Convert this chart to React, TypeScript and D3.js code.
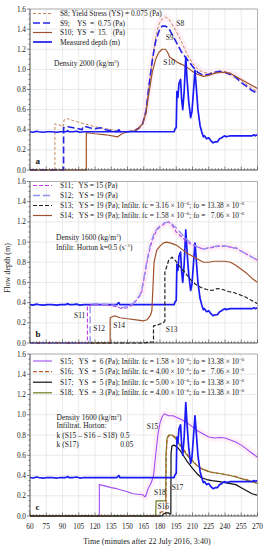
import React from 'react';
import * as d3 from 'd3';

type Pt = [number, number];

const timeTicks = d3.range(60, 271, 15);
const depthTicks = [0, 0.2, 0.4, 0.6, 0.8, 1.0, 1.2, 1.4, 1.6];

// measured flow depth (same record in all panels)
const measured: Pt[] = [
  [60, 0.38], [63, 0.375], [66, 0.385], [68, 0.38], [72, 0.375], [76, 0.38], [80, 0.38], [85, 0.375],
  [88, 0.38], [93, 0.38], [95, 0.39], [96, 0.38], [100, 0.38], [103, 0.385], [106, 0.375], [110, 0.38],
  [120, 0.38], [130, 0.38], [140, 0.38], [142, 0.40], [143, 0.38], [155, 0.38], [170, 0.38], [185, 0.38],
  [193, 0.38], [194, 0.41], [195, 0.42], [195.6, 0.78], [196.5, 0.72], [197.5, 0.86], [199, 0.9], [200, 0.7],
  [201, 0.6], [202.3, 0.78], [203.8, 1.12], [205, 0.9], [206.5, 0.68], [208.3, 0.52], [209.5, 0.58],
  [211, 0.8], [212.3, 0.99], [213.5, 0.82], [215, 0.6], [217, 0.44], [218.5, 0.38], [220, 0.33], [221, 0.34],
  [223, 0.31], [225, 0.32], [227, 0.29], [229, 0.27], [231, 0.28], [233, 0.28], [235, 0.31], [237, 0.32],
  [238, 0.33], [240, 0.34], [241, 0.33], [245, 0.34], [250, 0.34], [255, 0.34], [260, 0.34], [265, 0.34],
  [267, 0.35], [268, 0.34], [270, 0.35],
];

const s8: Pt[] = [
  [60, 0], [83, 0], [83, 0.46], [86, 0.45], [90, 0.44], [90.6, 0.43], [91.5, 0.5], [95, 0.51], [100, 0.49],
  [110, 0.46], [120, 0.43], [130, 0.41], [140, 0.39], [148, 0.38], [155, 0.39], [160, 0.42], [164, 0.47],
  [167, 0.6], [170, 0.85], [173, 1.1], [176, 1.32], [179, 1.45], [182, 1.5], [185, 1.52], [188, 1.5],
  [191, 1.45], [195, 1.38], [200, 1.27], [205, 1.15], [210, 1.06], [215, 1.0], [220, 0.97], [225, 0.96],
  [230, 0.97], [235, 0.98], [240, 0.98], [245, 0.96], [250, 0.93], [255, 0.89], [260, 0.85], [265, 0.81],
  [270, 0.78],
];

const s9: Pt[] = [
  [60, 0], [91, 0], [91, 0.42], [95, 0.43], [100, 0.42], [105, 0.41], [108, 0.40], [109, 0.43], [112, 0.43],
  [115, 0.42], [120, 0.41], [125, 0.42], [130, 0.40], [135, 0.39], [140, 0.38], [150, 0.38], [157, 0.39],
  [161, 0.42], [164, 0.46], [167, 0.58], [170, 0.85], [173, 1.1], [176, 1.28], [179, 1.38], [182, 1.43],
  [185, 1.43], [188, 1.41], [191, 1.35], [195, 1.27], [200, 1.17], [205, 1.1], [210, 1.03], [215, 0.97],
  [220, 0.94], [225, 0.95], [230, 0.97], [235, 0.98], [240, 0.97], [245, 0.95], [250, 0.92], [255, 0.87],
  [260, 0.83], [265, 0.79], [270, 0.76],
];

const s10: Pt[] = [
  [60, 0], [112, 0], [112, 0.37], [120, 0.36], [130, 0.35], [141, 0.33], [145, 0.36], [150, 0.38],
  [157, 0.39], [161, 0.42], [164, 0.46], [167, 0.56], [170, 0.78], [173, 0.98], [176, 1.1], [179, 1.17],
  [182, 1.2], [185, 1.2], [187, 1.17], [189, 1.12], [192, 1.1], [196, 1.07], [200, 1.05], [205, 1.02],
  [210, 0.98], [215, 0.95], [220, 0.93], [225, 0.94], [230, 0.96], [235, 0.97], [240, 0.97], [245, 0.96],
  [250, 0.93], [255, 0.9], [260, 0.87], [265, 0.84], [270, 0.81],
];

const s11: Pt[] = [
  [60, 0], [113, 0], [113, 0.37], [118, 0.38], [125, 0.38], [135, 0.37], [140, 0.36], [145, 0.34],
  [150, 0.35], [155, 0.38], [158, 0.42], [161, 0.46], [163, 0.5], [165, 0.62], [168, 0.8], [171, 0.95],
  [174, 1.05], [177, 1.12], [180, 1.15], [184, 1.18], [188, 1.2], [191, 1.17], [195, 1.1], [200, 1.05],
  [205, 1.0], [210, 0.97], [215, 0.95], [220, 0.93], [225, 0.94], [230, 0.95], [235, 0.96], [240, 0.96],
  [245, 0.95], [250, 0.94], [255, 0.91], [260, 0.88], [265, 0.85], [270, 0.82],
];

const s12: Pt[] = [
  [60, 0], [115.5, 0], [115.5, 0.38], [120, 0.39], [125, 0.385], [135, 0.38], [140, 0.37], [145, 0.35],
  [150, 0.36], [155, 0.39], [158, 0.43], [161, 0.47], [163, 0.52], [165, 0.64], [168, 0.82], [171, 0.97],
  [174, 1.07], [177, 1.13], [180, 1.16], [184, 1.19], [188, 1.2], [191, 1.18], [195, 1.14], [200, 1.08],
  [205, 1.02], [210, 0.98], [215, 0.95], [220, 0.93], [225, 0.945], [230, 0.955], [235, 0.965],
  [240, 0.96], [245, 0.955], [248, 0.94], [250, 0.945], [255, 0.91], [260, 0.88], [265, 0.85], [270, 0.82],
];

const s13: Pt[] = [
  [60, 0], [165, 0], [172, 0.01], [174, 0.01], [174, 0.17], [178, 0.18], [183, 0.2], [184.5, 0.22],
  [184.5, 0.7], [186, 0.75], [188, 0.82], [191, 0.85], [194, 0.82], [198, 0.76], [203, 0.7], [208, 0.63],
  [213, 0.58], [218, 0.55], [223, 0.53], [228, 0.52], [233, 0.54], [238, 0.53], [243, 0.51], [248, 0.5],
  [253, 0.48], [258, 0.46], [263, 0.43], [270, 0.39],
];

const s14: Pt[] = [
  [60, 0], [134, 0], [134, 0.25], [138, 0.27], [143, 0.25], [150, 0.24], [158, 0.23], [165, 0.22],
  [168, 0.23], [171, 0.27], [172.5, 0.32], [173.5, 0.55], [174.5, 0.8], [177, 0.92], [180, 0.96],
  [183, 0.99], [186, 1.0], [190, 0.99], [195, 0.97], [200, 0.93], [205, 0.89], [210, 0.86], [215, 0.83],
  [220, 0.8], [225, 0.8], [230, 0.81], [235, 0.81], [240, 0.81], [245, 0.8], [250, 0.77], [255, 0.73],
  [260, 0.69], [265, 0.64], [270, 0.6],
];

const s15: Pt[] = [
  [60, 0], [124, 0], [124, 0.31], [128, 0.3], [135, 0.28], [140, 0.27], [145, 0.255], [150, 0.24],
  [155, 0.22], [160, 0.215], [164, 0.21], [166, 0.19], [167, 0.2], [169, 0.27], [172, 0.33], [174, 0.4],
  [176, 0.6], [178, 0.8], [180, 0.92], [182, 0.98], [184, 1.01], [186, 1.0], [188, 0.99], [192, 0.99],
  [196, 0.97], [200, 0.95], [205, 0.92], [210, 0.88], [215, 0.84], [220, 0.81], [225, 0.78], [230, 0.77],
  [235, 0.775], [240, 0.77], [245, 0.75], [250, 0.73], [255, 0.7], [260, 0.66], [265, 0.62], [270, 0.58],
];

const s16: Pt[] = [
  [60, 0], [179, 0], [180, 0.03], [181, 0.04], [184, 0.04], [185, 0.02], [185.5, 0.02], [185.8, 0.6],
  [186.5, 0.76], [188, 0.79], [191, 0.8], [194, 0.78], [197, 0.73], [201, 0.67], [205, 0.61], [210, 0.55],
  [214, 0.5], [218, 0.47], [223, 0.45], [228, 0.43], [235, 0.42], [240, 0.41], [245, 0.4], [250, 0.39],
  [255, 0.37], [260, 0.36], [265, 0.34], [270, 0.33],
];

const s17: Pt[] = [
  [60, 0], [182, 0], [183, 0.02], [185, 0.03], [188, 0.03], [189, 0.02], [190, 0.02], [190.2, 0.62],
  [191, 0.69], [193, 0.7], [196, 0.68], [199, 0.64], [202, 0.59], [205, 0.54], [210, 0.47], [214, 0.42],
  [218, 0.38], [223, 0.36], [228, 0.35], [235, 0.34], [240, 0.33], [245, 0.32], [250, 0.31], [255, 0.28],
  [260, 0.25], [265, 0.22], [270, 0.205],
];

const s18: Pt[] = [
  [60, 0], [176, 0], [176.4, 0.15], [183, 0.15], [185.3, 0.15], [185.5, 0.6], [186.5, 0.77], [188, 0.8],
  [191, 0.8], [194, 0.77], [197, 0.72], [201, 0.66], [205, 0.6], [210, 0.54], [214, 0.5], [218, 0.47],
  [223, 0.445], [228, 0.43], [235, 0.42], [240, 0.41], [245, 0.4], [250, 0.385], [255, 0.37], [260, 0.355],
  [265, 0.34], [270, 0.32],
];

type Style = { color: string; width: number; dash?: string };
const styles: Record<string, Style> = {
  measured: { color: '#1a1af5', width: 1.7 },
  s8: { color: '#c8865a', width: 1, dash: '3,2' },
  s9: { color: '#2424e6', width: 1.6, dash: '7,3' },
  s10: { color: '#a0522d', width: 1.2 },
  s11: { color: '#c03ce6', width: 1.1, dash: '4,2' },
  s12: { color: '#8f8ff0', width: 1.3, dash: '7,3' },
  s13: { color: '#222222', width: 1.2, dash: '4,2' },
  s14: { color: '#a0522d', width: 1.2 },
  s15: { color: '#a24cf5', width: 1.1 },
  s16: { color: '#b8602c', width: 1.2, dash: '4,2' },
  s17: { color: '#111111', width: 1.2 },
  s18: { color: '#6b7d20', width: 1.2 },
};

const seriesData: Record<string, Pt[]> = { measured, s8, s9, s10, s11, s12, s13, s14, s15, s16, s17, s18 };

// "^...^" marks superscript text
const legendA = [
  ['s8', 'S8; Yield Stress (YS) = 0.075 (Pa)'],
  ['s9', 'S9;    YS  =  0.75 (Pa)'],
  ['s10', 'S10;  YS  =  15.   (Pa)'],
  ['measured', 'Measured depth (m)'],
];
const legendB = [
  ['s11', 'S11;   YS = 15 (Pa)'],
  ['s12', 'S12;   YS = 19 (Pa)'],
  ['s13', 'S13;   YS = 19 (Pa); Infiltr. fc = 3.16 × 10^−6^; fo = 13.38 × 10^−6^'],
  ['s14', 'S14;   YS = 19 (Pa); Infiltr. fc = 1.58 × 10^−6^; fo =   7.06 × 10^−6^'],
];
const legendC = [
  ['s15', 'S15;   YS  =  6 (Pa); Infiltr. fc = 1.58 × 10^−6^; fo = 13.38 × 10^−6^'],
  ['s16', 'S16;   YS  =  5 (Pa); Infiltr. fc = 4.00 × 10^−6^; fo =   7.06 × 10^−6^'],
  ['s17', 'S17;   YS  =  5 (Pa); Infiltr. fc = 5.00 × 10^−6^; fo = 13.38 × 10^−6^'],
  ['s18', 'S18;   YS  =  3 (Pa); Infiltr. fc = 4.00 × 10^−6^; fo = 13.38 × 10^−6^'],
];

type Note = { t: number; d: number; text: string };
const notesA: Note[] = [
  { t: 195, d: 1.43, text: 'S8' },
  { t: 185.2, d: 1.29, text: 'S9' },
  { t: 183, d: 1.04, text: 'S10' },
  { t: 82.2, d: 1.03, text: 'Density 2000 (kg/m^3^)' },
];
const notesB: Note[] = [
  { t: 100.6, d: 0.245, text: 'S11' },
  { t: 118.4, d: 0.12, text: 'S12' },
  { t: 136.9, d: 0.148, text: 'S14' },
  { t: 185.3, d: 0.11, text: 'S13' },
  { t: 84, d: 1.02, text: 'Density 1600 (kg/m^3^)' },
  { t: 84, d: 0.92, text: 'Infiltr. Horton k=0.5 (s^−1^)' },
];
const notesC: Note[] = [
  { t: 84.5, d: 0.953, text: 'Density 1600 (kg/m^3^)' },
  { t: 84.5, d: 0.865, text: 'Infiltrat. Horton:' },
  { t: 84.5, d: 0.77, text: 'k (S15 – S16 – S18)' },
  { t: 143.2, d: 0.77, text: '0.5' },
  { t: 84.5, d: 0.68, text: 'k (S17)' },
  { t: 143.2, d: 0.68, text: '0.05' },
  { t: 167.7, d: 0.864, text: 'S15' },
  { t: 174.5, d: 0.207, text: 'S18' },
  { t: 190.8, d: 0.252, text: 'S17' },
  { t: 177.6, d: 0.069, text: 'S16' },
];

const panels = [
  { top: 9, bottom: 170, letter: 'a', order: ['s8', 's9', 's10', 'measured'], legend: legendA, notes: notesA, legendTop: 13.5, rowGap: 9.5, halo: 's8' },
  { top: 181.5, bottom: 343, letter: 'b', order: ['measured', 's14', 's13', 's11', 's12'], legend: legendB, notes: notesB, legendTop: 185.5, rowGap: 10, halo: 's11' },
  { top: 354, bottom: 516, letter: 'c', order: ['s15', 's18', 's16', 's17', 'measured'], legend: legendC, notes: notesC, legendTop: 361, rowGap: 10.6, halo: 's15' },
];

const FONT = '"Liberation Serif", "DejaVu Serif", serif';

const x = d3.scaleLinear().domain([60, 270]).range([30, 257.5]);

function RichText({ text }: { text: string }) {
  const parts = text.split('^');
  return (
    <>
      {parts.map((p, i) =>
        i % 2 === 1 ? (
          <tspan key={i} fontSize="5" dy={-2.9}>{p}</tspan>
        ) : (
          <tspan key={i} dy={i > 0 ? 2.9 : 0}>{p}</tspan>
        )
      )}
    </>
  );
}

function Panel({ cfg, showLabels }: { cfg: (typeof panels)[number]; showLabels: boolean }) {
  const y = d3.scaleLinear().domain([0, 1.6]).range([cfg.bottom, cfg.top]);
  const line = d3.line<Pt>().x(d => x(d[0])).y(d => y(d[1]));
  const minorX = d3.range(60, 271, 3);
  const minorY = d3.range(0, 1.601, 0.05);
  const haloData = seriesData[cfg.halo].filter(d => d[0] >= 160);
  return (
    <g>
      <rect x={x(60)} y={cfg.top} width={x(270) - x(60)} height={cfg.bottom - cfg.top} fill="#fff" />
      {timeTicks.map(t => (
        <line key={'gx' + t} x1={x(t)} x2={x(t)} y1={cfg.top} y2={cfg.bottom} stroke="#dcdcdc" strokeWidth={0.6} />
      ))}
      {depthTicks.map(v => (
        <line key={'gy' + v} x1={x(60)} x2={x(270)} y1={y(v)} y2={y(v)} stroke="#dcdcdc" strokeWidth={0.6} />
      ))}
      <path d={line(haloData) || ''} fill="none" stroke="#fbe3ee" strokeWidth={7} strokeLinejoin="round" opacity={0.55} />
      {cfg.order.map(k => {
        const st = styles[k];
        return (
          <path key={k} d={line(seriesData[k]) || ''} fill="none" stroke={st.color} strokeWidth={st.width}
            strokeDasharray={st.dash} strokeLinejoin="round" />
        );
      })}
      {/* frame */}
      <line x1={x(60)} x2={x(270)} y1={cfg.top} y2={cfg.top} stroke="#999" strokeWidth={0.7} />
      <line x1={x(270)} x2={x(270)} y1={cfg.top} y2={cfg.bottom} stroke="#999" strokeWidth={0.7} />
      <line x1={x(60)} x2={x(60)} y1={cfg.top} y2={cfg.bottom} stroke="#333" strokeWidth={0.8} />
      <line x1={x(60)} x2={x(270)} y1={cfg.bottom} y2={cfg.bottom} stroke="#333" strokeWidth={0.8} />
      {minorX.map(t => (
        <line key={'mx' + t} x1={x(t)} x2={x(t)} y1={cfg.bottom} y2={cfg.bottom - (t % 15 === 0 ? 3.5 : 1.8)} stroke="#333" strokeWidth={0.6} />
      ))}
      {minorY.map((v, i) => (
        <line key={'my' + i} x1={x(60)} x2={x(60) - (i % 4 === 0 ? 3 : 1.5)} y1={y(v)} y2={y(v)} stroke="#333" strokeWidth={0.6} />
      ))}
      {depthTicks.map(v => (
        <text key={'ty' + v} x={26} y={y(v) + 2.5} fontSize={7.3} textAnchor="end" fill="#222" fontFamily={FONT}>
          {v.toFixed(1)}
        </text>
      ))}
      {showLabels &&
        timeTicks.map(t => (
          <text key={'tx' + t} x={x(t)} y={cfg.bottom + 13} fontSize={7.3} textAnchor="middle" fill="#222" fontFamily={FONT}>
            {t}
          </text>
        ))}
      {/* legend */}
      {cfg.legend.map(([k, label], i) => {
        const st = styles[k];
        const yy = cfg.legendTop + i * cfg.rowGap;
        return (
          <g key={'lg' + k}>
            <line x1={33} x2={52} y1={yy} y2={yy} stroke={st.color} strokeWidth={st.width} strokeDasharray={st.dash} />
            <text x={60} y={yy + 2.5} fontSize={7.4} fill="#1a1a1a" fontFamily={FONT} style={{ whiteSpace: 'pre' }}>
              <RichText text={label} />
            </text>
          </g>
        );
      })}
      {cfg.notes.map((n, i) => (
        <text key={'nt' + i} x={x(n.t)} y={y(n.d)} fontSize={7.5} fill="#1a1a1a" fontFamily={FONT} style={{ whiteSpace: 'pre' }}>
          <RichText text={n.text} />
        </text>
      ))}
      <text x={35.5} y={cfg.bottom - 6} fontSize={9} fontWeight="bold" fill="#111" fontFamily={FONT}>
        {cfg.letter}
      </text>
    </g>
  );
}

export default function App() {
  return (
    <svg width={268} height={550} style={{ position: 'absolute', left: 0, top: 0, background: '#fff' }}>
      <rect width={268} height={550} fill="#fff" />
      {panels.map((p, i) => (
        <Panel key={p.letter} cfg={p} showLabels={i === 2} />
      ))}
      <text transform="translate(9.5,268) rotate(-90)" fontSize={8} textAnchor="middle" fill="#222" fontFamily={FONT}>
        Flow depth (m)
      </text>
      <text x={147} y={543.5} fontSize={8} textAnchor="middle" fill="#222" fontFamily={FONT}>
        Time (minutes after 22 July 2016, 3:40)
      </text>
    </svg>
  );
}
